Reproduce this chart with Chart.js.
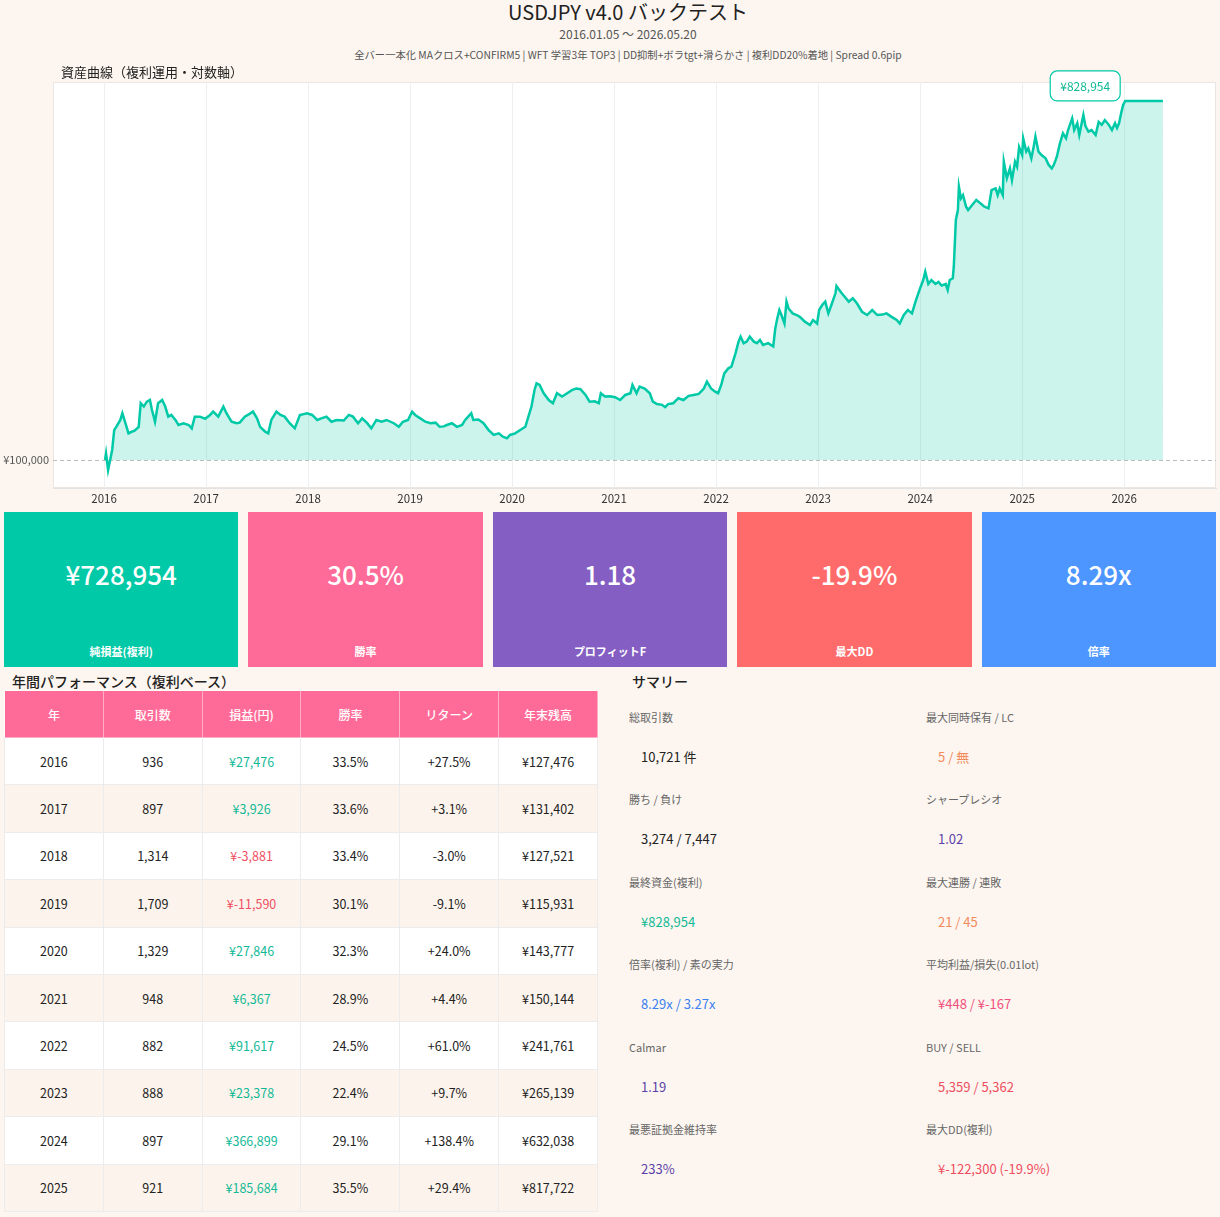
<!DOCTYPE html>
<html lang="ja">
<head>
<meta charset="utf-8">
<title>USDJPY v4.0 バックテスト</title>
<script src="https://cdn.jsdelivr.net/npm/chart.js@4.4.1/dist/chart.umd.min.js"></script>
<style>
  html, body { margin: 0; padding: 0; }
  body {
    width: 1220px; height: 1217px; position: relative; overflow: hidden;
    background: #fdf6f0;
    font-family: "Noto Sans CJK JP", "Noto Sans", sans-serif; color: #222;
  }
  .abs { position: absolute; }
  .center { text-align: center; white-space: nowrap; }
  #title { left: 36px; width: 1184px; top: 0; height: 24px; line-height: 24px; font-size: 20px; }
  #period { left: 36px; width: 1184px; top: 26px; height: 16px; line-height: 16px; font-size: 12px; color: #555; }
  #config { left: 36px; width: 1184px; top: 48px; height: 14px; line-height: 14px; font-size: 10.3px; color: #555; }
  #panelTitle { left: 61px; top: 64px; line-height: 16px; font-size: 13px; z-index: 2; }
  #chart { left: 0; top: 60px; }
  #kpis { left: 4px; top: 512px; width: 1212px; height: 155px; display: grid;
          grid-template-columns: repeat(5, 1fr); column-gap: 10px; }
  .kpi { position: relative; color: #fff; }
  .kpi .v { position: absolute; left: 0; right: 0; top: 45px; line-height: 34px; font-size: 26px; text-align: center; font-weight: 500; }
  .kpi .l { position: absolute; left: 0; right: 0; top: 131px; line-height: 16px; font-size: 11px; text-align: center; font-weight: 700; }
  .secTitle { font-size: 14px; font-weight: 500; line-height: 18px; }
  table { border-collapse: collapse; table-layout: fixed; }
  #yearTable { left: 4px; top: 690px; width: 594px; }
  #yearTable th { background: #ff6b98; color: #fff; font-weight: 500; font-size: 12px; height: 46px; padding: 0;
                  border: 1px solid rgba(255,255,255,0.45); }
  #yearTable td { height: 46.4px; padding: 0; text-align: center; font-size: 12.5px; border: 1px solid #ececec; }
  #yearTable tr:nth-child(odd) td { background: #ffffff; }
  #yearTable tr:nth-child(even) td { background: #fcf4ec; }
  .sl { font-size: 11px; color: #666; line-height: 16px; white-space: nowrap; }
  .sv { font-size: 13px; line-height: 18px; white-space: nowrap; }
</style>
</head>
<body>
<div id="title" class="abs center">USDJPY v4.0 バックテスト</div>
<div id="period" class="abs center">2016.01.05 ～ 2026.05.20</div>
<div id="config" class="abs center">全バー一本化 MAクロス+CONFIRM5 | WFT 学習3年 TOP3 | DD抑制+ボラtgt+滑らかさ | 複利DD20%着地 | Spread 0.6pip</div>
<div id="panelTitle" class="abs">資産曲線（複利運用・対数軸）</div>
<canvas id="chart" class="abs" width="1220" height="450"></canvas>
<div id="kpis" class="abs"></div>
<div class="abs secTitle" style="left:12px; top:672px;">年間パフォーマンス（複利ベース）</div>
<table id="yearTable" class="abs"><thead><tr id="yearHead"></tr></thead><tbody id="yearBody"></tbody></table>
<div class="abs secTitle" style="left:632px; top:672px;">サマリー</div>
<div id="summary"></div>

<script>
// === Equity curve (decimal year / balance in yen) ===
const equityT = [
  2016.01, 2016.02, 2016.04, 2016.08, 2016.10, 2016.12, 2016.16, 2016.18, 2016.21, 2016.24,
  2016.27, 2016.30, 2016.34, 2016.36, 2016.39, 2016.42, 2016.45, 2016.47, 2016.50, 2016.53,
  2016.57, 2016.60, 2016.63, 2016.66, 2016.70, 2016.73, 2016.78, 2016.83, 2016.86, 2016.89,
  2016.94, 2016.99, 2017.04, 2017.07, 2017.12, 2017.17, 2017.20, 2017.25, 2017.30, 2017.33,
  2017.38, 2017.41, 2017.46, 2017.50, 2017.53, 2017.58, 2017.61, 2017.64, 2017.69, 2017.73,
  2017.77, 2017.82, 2017.87, 2017.92, 2017.99, 2018.04, 2018.09, 2018.13, 2018.18, 2018.23,
  2018.28, 2018.35, 2018.40, 2018.44, 2018.49, 2018.53, 2018.58, 2018.62, 2018.67, 2018.72,
  2018.77, 2018.84, 2018.89, 2018.93, 2018.98, 2019.02, 2019.05, 2019.10, 2019.15, 2019.20,
  2019.25, 2019.29, 2019.33, 2019.36, 2019.41, 2019.46, 2019.51, 2019.54, 2019.57, 2019.60,
  2019.62, 2019.67, 2019.72, 2019.77, 2019.82, 2019.87, 2019.91, 2019.95, 2019.98, 2020.03,
  2020.08, 2020.13, 2020.16, 2020.19, 2020.22, 2020.24, 2020.27, 2020.31, 2020.36, 2020.40,
  2020.44, 2020.49, 2020.54, 2020.59, 2020.63, 2020.67, 2020.72, 2020.76, 2020.81, 2020.85,
  2020.87, 2020.91, 2020.96, 2021.01, 2021.06, 2021.11, 2021.16, 2021.18, 2021.22, 2021.25,
  2021.30, 2021.35, 2021.38, 2021.42, 2021.47, 2021.50, 2021.53, 2021.58, 2021.63, 2021.68,
  2021.73, 2021.78, 2021.83, 2021.88, 2021.91, 2021.95, 2021.99, 2022.02, 2022.05, 2022.08,
  2022.12, 2022.15, 2022.19, 2022.22, 2022.24, 2022.27, 2022.30, 2022.33, 2022.37, 2022.40,
  2022.43, 2022.46, 2022.51, 2022.56, 2022.58, 2022.60, 2022.62, 2022.64, 2022.67, 2022.69,
  2022.71, 2022.75, 2022.79, 2022.82, 2022.87, 2022.92, 2022.95, 2022.99, 2023.01, 2023.04,
  2023.07, 2023.10, 2023.13, 2023.17, 2023.18, 2023.22, 2023.26, 2023.30, 2023.34, 2023.38,
  2023.43, 2023.48, 2023.53, 2023.58, 2023.63, 2023.67, 2023.72, 2023.77, 2023.80, 2023.84,
  2023.88, 2023.92, 2023.96, 2024.00, 2024.03, 2024.05, 2024.08, 2024.11, 2024.15, 2024.18,
  2024.21, 2024.25, 2024.27, 2024.29, 2024.32, 2024.33, 2024.35, 2024.37, 2024.38, 2024.40,
  2024.42, 2024.45, 2024.47, 2024.51, 2024.55, 2024.59, 2024.63, 2024.67, 2024.70, 2024.74,
  2024.76, 2024.78, 2024.81, 2024.82, 2024.85, 2024.88, 2024.90, 2024.93, 2024.95, 2024.97,
  2025.00, 2025.01, 2025.04, 2025.06, 2025.09, 2025.11, 2025.13, 2025.16, 2025.19, 2025.23,
  2025.26, 2025.29, 2025.31, 2025.34, 2025.37, 2025.40, 2025.43, 2025.45, 2025.49, 2025.51,
  2025.54, 2025.56, 2025.60, 2025.62, 2025.65, 2025.68, 2025.72, 2025.75, 2025.78, 2025.81,
  2025.85, 2025.88, 2025.91, 2025.93, 2025.95, 2025.97, 2025.99, 2026.01, 2026.38
];
const equityValues = [
  100000, 104000, 94300, 106100, 119300, 121600, 126600, 131700, 124200, 117000,
  118100, 118800, 121600, 139700, 137000, 141000, 142400, 134300, 125300, 139700,
  142400, 137000, 129100, 130400, 126600, 122900, 124200, 122900, 120500, 129100,
  129100, 127500, 130400, 133000, 129100, 137000, 131700, 125300, 124200, 124600,
  129100, 130400, 133000, 127800, 121600, 118100, 117000, 126600, 133000, 130400,
  129100, 124200, 120500, 130400, 131700, 130400, 126600, 127800, 129100, 125300,
  126600, 126200, 130400, 129100, 124200, 127800, 124200, 120500, 126600, 125300,
  126600, 124200, 121600, 125300, 126600, 133000, 130400, 127800, 125300, 124200,
  124600, 121600, 121900, 122900, 124200, 121600, 122900, 126600, 129100, 131700,
  126600, 126900, 124200, 119300, 115900, 117000, 114700, 113600, 115900, 117000,
  119300, 121600, 129100, 137000, 151100, 157100, 155600, 148200, 142400, 139700,
  148200, 145300, 148200, 151100, 152400, 151800, 146700, 141000, 141300, 139700,
  148200, 145300, 145600, 144800, 142400, 146700, 148200, 155600, 148200, 154100,
  152400, 148200, 141000, 139000, 138400, 136500, 139000, 139700, 143900, 142400,
  145900, 146700, 147600, 152400, 158700, 152400, 149600, 148200, 155600, 166600,
  171600, 173300, 187400, 200800, 206800, 199000, 200800, 206800, 200800, 199000,
  202800, 197000, 199000, 195200, 217200, 230400, 241900, 234900, 223500, 254200,
  244200, 237200, 234900, 232400, 225900, 221600, 228100, 223500, 241900, 249200,
  254200, 237200, 249200, 267000, 278600, 269300, 261700, 254200, 259200, 251700,
  239500, 234900, 241900, 234900, 235500, 237200, 232400, 228100, 223500, 234900,
  241900, 237200, 256700, 275300, 288700, 303200, 282000, 288700, 282000, 285400,
  279400, 282000, 272200, 288700, 291700, 312700, 411100, 436100, 500000, 467000,
  476000, 444700, 436100, 449200, 462400, 453700, 444700, 440400, 490500, 495200,
  476000, 495200, 476000, 579600, 525600, 557400, 520300, 579600, 563000, 632000,
  603000, 665000, 615000, 627000, 591000, 627000, 672000, 615000, 603000, 591000,
  568700, 557400, 568700, 597000, 645500, 685000, 665000, 698500, 748000, 698500,
  727000, 678000, 763000, 715000, 692000, 698500, 678000, 733000, 720000, 740900,
  720000, 698500, 727000, 706500, 727000, 771000, 810000, 828954, 828954
];
const initialBalance = 100000;
const tickYears = [2016, 2017, 2018, 2019, 2020, 2021, 2022, 2023, 2024, 2025, 2026];

// === KPI cards ===
const kpiValues = ["¥728,954", "30.5%", "1.18", "-19.9%", "8.29x"];
const kpiLabels = ["純損益(複利)", "勝率", "プロフィットF", "最大DD", "倍率"];
const kpiColors = ["#00c9a7", "#ff6b98", "#845ec2", "#ff6b6b", "#4d96ff"];

// === Yearly table ===
const tableHeaders = ["年", "取引数", "損益(円)", "勝率", "リターン", "年末残高"];
const years = [2016, 2017, 2018, 2019, 2020, 2021, 2022, 2023, 2024, 2025];
const trades = [936, 897, 1314, 1709, 1329, 948, 882, 888, 897, 921];
const pnl = [27476, 3926, -3881, -11590, 27846, 6367, 91617, 23378, 366899, 185684];
const winRates = [33.5, 33.6, 33.4, 30.1, 32.3, 28.9, 24.5, 22.4, 29.1, 35.5];
const returns = [27.5, 3.1, -3.0, -9.1, 24.0, 4.4, 61.0, 9.7, 138.4, 29.4];
const yearEnd = [127476, 131402, 127521, 115931, 143777, 150144, 241761, 265139, 632038, 817722];

// === Summary (left column / right column, row by row) ===
const summaryLabels = [
  ["総取引数", "最大同時保有 / LC"],
  ["勝ち / 負け", "シャープレシオ"],
  ["最終資金(複利)", "最大連勝 / 連敗"],
  ["倍率(複利) / 素の実力", "平均利益/損失(0.01lot)"],
  ["Calmar", "BUY / SELL"],
  ["最悪証拠金維持率", "最大DD(複利)"],
];
const summaryValues = [
  ["10,721 件", "5 / 無"],
  ["3,274 / 7,447", "1.02"],
  ["¥828,954", "21 / 45"],
  ["8.29x / 3.27x", "¥448 / ¥-167"],
  ["1.19", "5,359 / 5,362"],
  ["233%", "¥-122,300 (-19.9%)"],
];
const summaryColors = [
  ["#222222", "#f28a5c"],
  ["#222222", "#5b40a8"],
  ["#12b996", "#f28a5c"],
  ["#3b7ff0", "#f0507c"],
  ["#5b40a8", "#ee4d5f"],
  ["#5b40a8", "#ee4d5f"],
];

const TEAL = "#00c9a7";
const FONT = '"Noto Sans CJK JP", "Noto Sans", sans-serif';
const yen = (v) => "¥" + v.toLocaleString("en-US");

// === Chart ===
const plotBg = {
  id: "plotBg",
  beforeDraw(chart) {
    const { ctx, chartArea: a } = chart;
    ctx.save();
    ctx.fillStyle = "#ffffff";
    ctx.fillRect(a.left, a.top, a.width, a.height);
    ctx.strokeStyle = "#ebe6e1";
    ctx.lineWidth = 1;
    ctx.strokeRect(a.left + 0.5, a.top + 0.5, a.width - 1, a.height - 1);
    ctx.restore();
  },
};

// boxed label next to the highest balance
const peakLabel = {
  id: "peakLabel",
  afterDatasetsDraw(chart) {
    const i = equityValues.indexOf(Math.max(...equityValues));
    const x = chart.scales.x.getPixelForValue(equityT[i]);
    const y = chart.scales.y.getPixelForValue(equityValues[i]);
    const ctx = chart.ctx;
    const text = yen(equityValues[i]);
    ctx.save();
    ctx.font = "12px " + FONT;
    const w = ctx.measureText(text).width + 20;
    const h = 30;
    const cx = x - 40;
    const cy = y - 15;
    ctx.beginPath();
    ctx.roundRect(cx - w / 2, cy - h / 2, w, h, 7);
    ctx.fillStyle = "#ffffff";
    ctx.fill();
    ctx.strokeStyle = TEAL;
    ctx.lineWidth = 1.2;
    ctx.stroke();
    ctx.fillStyle = "#12b996";
    ctx.textAlign = "center";
    ctx.textBaseline = "middle";
    ctx.fillText(text, cx, cy);
    ctx.restore();
  },
};

new Chart(document.getElementById("chart"), {
  type: "line",
  data: {
    datasets: [
      {
        data: equityT.map((t, i) => ({ x: t, y: equityValues[i] })),
        borderColor: TEAL,
        backgroundColor: "rgba(0, 201, 167, 0.2)",
        fill: { value: initialBalance },
        borderWidth: 2.5,
        pointRadius: 0,
        tension: 0,
      },
    ],
  },
  options: {
    responsive: false,
    animation: false,
    layout: { padding: { top: 22, right: 4, left: 0, bottom: 0 } },
    plugins: { legend: { display: false }, tooltip: { enabled: false } },
    scales: {
      x: {
        type: "linear",
        min: 2015.5,
        max: 2026.9,
        afterBuildTicks: (s) => { s.ticks = tickYears.map((v) => ({ value: v })); },
        afterFit: (s) => { s.height = 22; },
        ticks: { callback: (v) => String(v), color: "#333", font: { size: 11.5, family: FONT }, padding: 4, maxRotation: 0, autoSkip: false },
        grid: { color: "#efefef", drawTicks: false },
        border: { color: "#e3e3e3" },
      },
      y: {
        type: "logarithmic",
        min: 84800,
        max: 926900,
        afterBuildTicks: (s) => { s.ticks = [{ value: initialBalance }]; },
        afterFit: (s) => { s.width = 53; },
        ticks: { callback: (v) => yen(v), color: "#555", font: { size: 11, family: FONT }, padding: 4 },
        grid: { color: "#bcbcbc", drawTicks: false, lineWidth: 1 },
        border: { display: false, dash: [4, 3] },
      },
    },
  },
  plugins: [plotBg, peakLabel],
});

// === KPI cards ===
const kpis = document.getElementById("kpis");
kpiValues.forEach((v, i) => {
  const card = document.createElement("div");
  card.className = "kpi";
  card.style.background = kpiColors[i];
  card.innerHTML = `<div class="v">${v}</div><div class="l">${kpiLabels[i]}</div>`;
  kpis.appendChild(card);
});

// === Yearly table ===
document.getElementById("yearHead").innerHTML = tableHeaders.map((h) => `<th>${h}</th>`).join("");
document.getElementById("yearBody").innerHTML = years
  .map((y, i) => {
    const p = pnl[i];
    const pColor = p >= 0 ? "#12b996" : "#ef4f63";
    const r = (returns[i] >= 0 ? "+" : "") + returns[i].toFixed(1) + "%";
    return `<tr>
      <td>${y}</td>
      <td>${trades[i].toLocaleString("en-US")}</td>
      <td style="color:${pColor}">${yen(p)}</td>
      <td>${winRates[i].toFixed(1)}%</td>
      <td>${r}</td>
      <td>${yen(yearEnd[i])}</td>
    </tr>`;
  })
  .join("");

// === Summary grid ===
const summary = document.getElementById("summary");
const colX = [629, 926];
summaryLabels.forEach((row, r) => {
  row.forEach((label, c) => {
    const top = 709 + r * 82.4;
    summary.insertAdjacentHTML(
      "beforeend",
      `<div class="abs sl" style="left:${colX[c]}px; top:${top}px;">${label}</div>
       <div class="abs sv" style="left:${colX[c] + 12}px; top:${top + 39}px; color:${summaryColors[r][c]}">${summaryValues[r][c]}</div>`
    );
  });
});
</script>
</body>
</html>
